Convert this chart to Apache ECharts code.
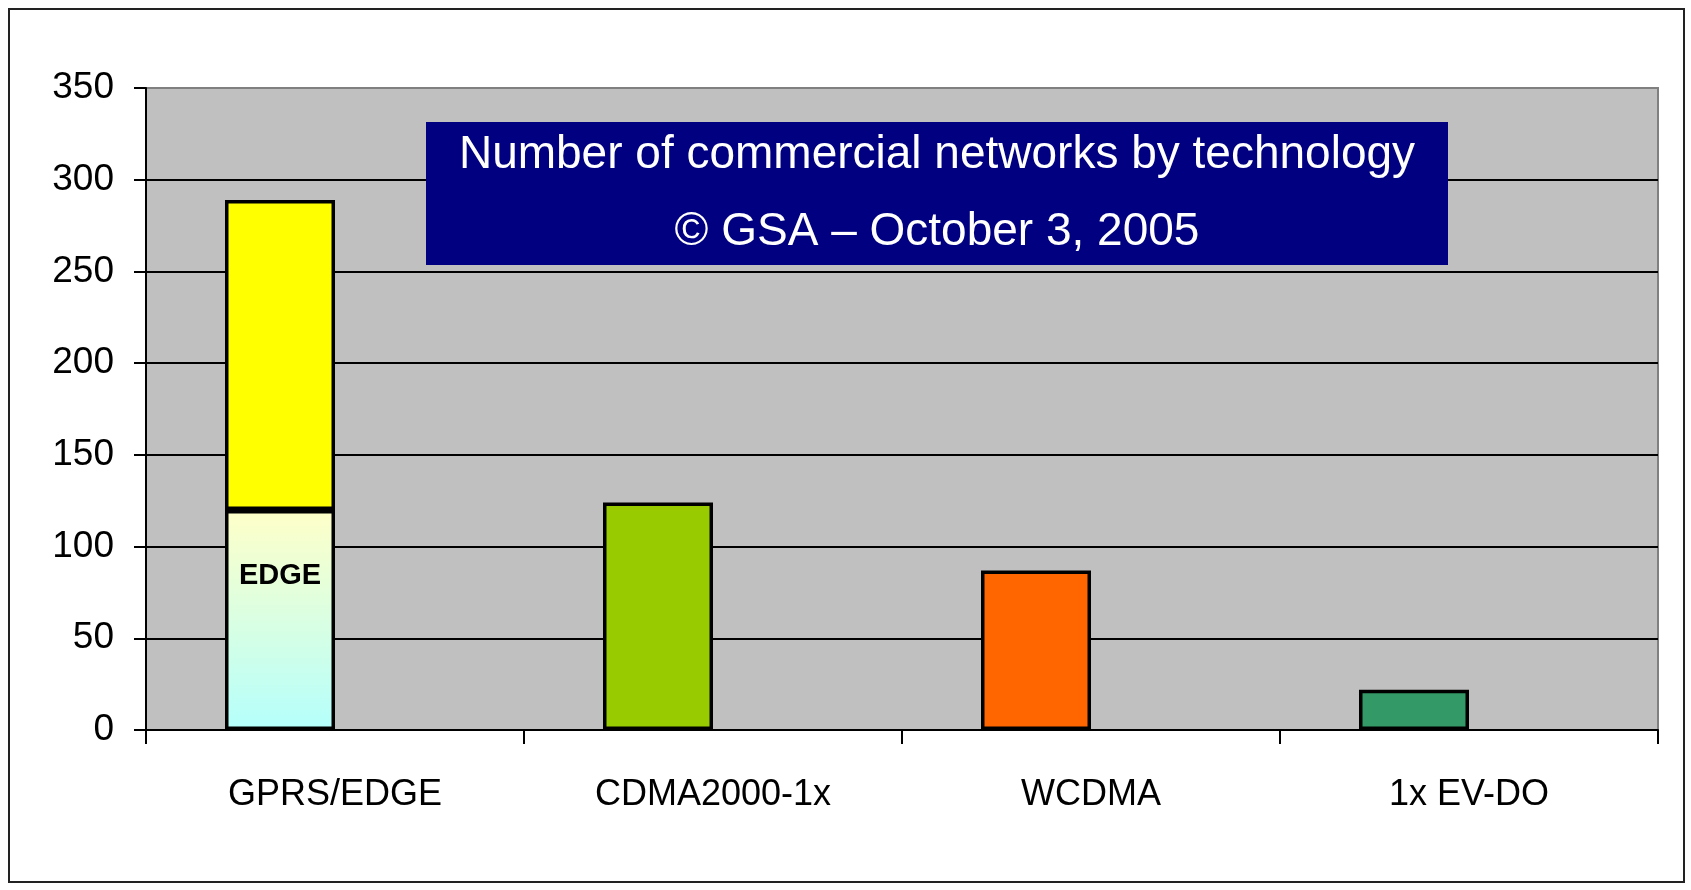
<!DOCTYPE html>
<html>
<head>
<meta charset="utf-8">
<title>Number of commercial networks by technology</title>
<script src="https://cdn.jsdelivr.net/npm/echarts@6/dist/echarts.min.js"></script>
<style>
  html, body { margin: 0; padding: 0; background: #fff; }
  #chart { width: 1691px; height: 890px; }
</style>
</head>
<body>
<div id="chart"></div>
<script>
// data
const categories = ["GPRS/EDGE", "CDMA2000-1x", "WCDMA", "1x EV-DO"];
const baseValues = [120, 124, 87, 22];      // EDGE part of first column, whole bar for the others
const gprsValues = [169, null, null, null]; // yellow part stacked on EDGE (total 289)
const spareValues = [null, null, null, null]; // empty second slot, pushes bars to the left
const barColors = ["edge", "#99CC00", "#FF6600", "#339966"];
const yTicks = { min: 0, max: 350, step: 50 };
const titleLines = ["Number of commercial networks by technology", "\u00A9 GSA \u2013 October 3, 2005"];

const FONT = '"Liberation Sans", Arial, sans-serif';

const edgeFill = new echarts.graphic.LinearGradient(0, 0, 0, 1, [
  { offset: 0, color: "#FFFFC8" },
  { offset: 1, color: "#B4FFFC" },
]);

const chart = echarts.init(document.getElementById("chart"));

chart.setOption({
  animation: false,
  backgroundColor: "#fff",
  grid: {
    left: 146,
    right: 33,
    top: 88,
    bottom: 160,
    show: true,
    backgroundColor: "#C0C0C0",
    borderColor: "#808080",
    borderWidth: 2,
  },
  xAxis: {
    type: "category",
    data: categories,
    axisLine: { lineStyle: { color: "#000", width: 2 } },
    axisTick: { show: true, length: 14, lineStyle: { color: "#000", width: 2 } },
    axisLabel: {
      fontSize: 36,
      fontFamily: FONT,
      color: "#000",
      margin: 47,
    },
  },
  yAxis: {
    type: "value",
    min: yTicks.min,
    max: yTicks.max,
    interval: yTicks.step,
    axisLine: { show: true, lineStyle: { color: "#000", width: 2 } },
    axisTick: { show: true, length: 12, lineStyle: { color: "#000", width: 2 } },
    axisLabel: {
      fontSize: 37,
      fontFamily: FONT,
      color: "#000",
      margin: 32,
    },
    splitLine: {
      show: true,
      lineStyle: {
        width: 2,
        color: ["#000", "#000", "#000", "#000", "#000", "#000", "#000", "#808080"],
      },
    },
  },
  series: [
    {
      name: "EDGE",
      type: "bar",
      stack: "net",
      barWidth: 110,
      barGap: 0,
      itemStyle: { borderColor: "#000", borderWidth: 3.5 },
      label: {
        position: ["50%", "30%"],
        align: "center",
        verticalAlign: "middle",
        formatter: "{a}",
        fontFamily: FONT,
        fontWeight: "bold",
        fontSize: 29,
        color: "#000",
      },
      data: baseValues.map((v, i) => ({
        value: v,
        itemStyle: { color: barColors[i] === "edge" ? edgeFill : barColors[i] },
        label: { show: i === 0 },
      })),
    },
    {
      name: "GPRS",
      type: "bar",
      stack: "net",
      barWidth: 110,
      itemStyle: { color: "#FFFF00", borderColor: "#000", borderWidth: 3.5 },
      data: gprsValues,
    },
    {
      name: "spare",
      type: "bar",
      stack: "spare",
      barWidth: 110,
      data: spareValues,
    },
  ],
  graphic: [
    {
      type: "rect",
      silent: true,
      z: 100,
      shape: { x: 9, y: 9, width: 1675, height: 873 },
      style: { fill: "none", stroke: "#222", lineWidth: 2 },
    },
    {
      type: "rect",
      silent: true,
      z: 100,
      shape: { x: 426, y: 122, width: 1022, height: 143 },
      style: { fill: "#000080" },
    },
    {
      type: "text",
      silent: true,
      z: 101,
      x: 937,
      y: 155,
      style: {
        text: titleLines[0],
        fill: "#fff",
        fontSize: 46,
        fontFamily: FONT,
        align: "center",
        verticalAlign: "middle",
      },
    },
    {
      type: "text",
      silent: true,
      z: 101,
      x: 937,
      y: 232,
      style: {
        text: titleLines[1],
        fill: "#fff",
        fontSize: 46,
        fontFamily: FONT,
        align: "center",
        verticalAlign: "middle",
      },
    },
  ],
});
</script>
</body>
</html>
